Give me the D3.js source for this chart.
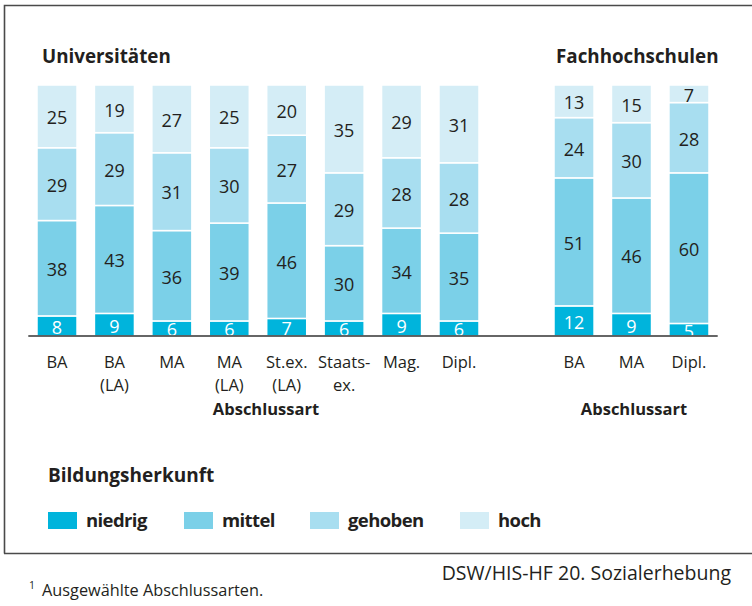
<!DOCTYPE html>
<html><head><meta charset="utf-8">
<script src="https://cdn.jsdelivr.net/npm/d3@7"></script>
<style>
html,body{margin:0;padding:0;background:#fff;}
svg{display:block;font-family:"Open Sans",sans-serif;}
</style></head>
<body>
<svg id="chart" width="752" height="606"></svg>
<script>
// ---- data ----
const seriesNames = ["niedrig", "mittel", "gehoben", "hoch"];
const seriesColors = ["#00b4dc", "#7bd0e8", "#a8def0", "#d4edf6"];

const uniCategories = ["BA", "BA\n(LA)", "MA", "MA\n(LA)", "St.ex.\n(LA)", "Staats-\nex.", "Mag.", "Dipl."];
const uniNiedrig = [8, 9, 6, 6, 7, 6, 9, 6];
const uniMittel  = [38, 43, 36, 39, 46, 30, 34, 35];
const uniGehoben = [29, 29, 31, 30, 27, 29, 28, 28];
const uniHoch    = [25, 19, 27, 25, 20, 35, 29, 31];

const fhCategories = ["BA", "MA", "Dipl."];
const fhNiedrig = [12, 9, 5];
const fhMittel  = [51, 46, 60];
const fhGehoben = [24, 30, 28];
const fhHoch    = [13, 15, 7];

const yTicks = [0, 100];

// ---- drawing ----
const svg = d3.select("#chart");
const ink = "#231f20";

// frame
svg.append("path")
  .attr("d", "M4.5,553.5 L4.5,5.5 L752,5.5")
  .attr("fill", "none").attr("stroke", "#4a4a4a").attr("stroke-width", 1.6);
svg.append("line").attr("x1", 4).attr("x2", 752).attr("y1", 553.5).attr("y2", 553.5)
  .attr("stroke", "#4a4a4a").attr("stroke-width", 1.6);

const y = d3.scaleLinear().domain(d3.extent(yTicks)).range([336, 85]);

function buildRows(cats, arrs) {
  return cats.map((c, i) => {
    const row = {key: String(i), label: c};
    seriesNames.forEach((s, j) => row[s] = arrs[j][i]);
    return row;
  });
}

function drawGroup(cats, arrs, range, title, titleX, axisTitleX) {
  const rows = buildRows(cats, arrs);
  const x = d3.scaleBand().domain(rows.map(r => r.key)).range(range)
    .paddingInner(0.303).paddingOuter(0.1515);
  const stacked = d3.stack().keys(seriesNames)(rows);

  const g = svg.append("g");
  stacked.forEach((layer, li) => {
    g.selectAll(null).data(layer).enter().append("rect")
      .attr("x", d => x(d.data.key))
      .attr("width", x.bandwidth())
      .attr("y", d => y(d[1]))
      .attr("height", d => y(d[0]) - y(d[1]))
      .attr("fill", seriesColors[li])
      .attr("stroke", "#fff").attr("stroke-width", 1.5);
    g.selectAll(null).data(layer).enter().append("text")
      .attr("x", d => x(d.data.key) + x.bandwidth() / 2)
      .attr("y", d => (y(d[0]) + y(d[1])) / 2 + 3)
      .attr("text-anchor", "middle")
      .attr("dominant-baseline", "middle")
      .attr("font-size", 18)
      .attr("fill", li === 0 ? "#fff" : ink)
      .text(d => d.data[seriesNames[li]]);
  });

  // axis
  const axis = d3.axisBottom(x).tickSize(0).tickPadding(0).tickFormat(k => rows[+k].label);
  const ag = svg.append("g").attr("transform", "translate(0,336)").call(axis);
  ag.select(".domain").remove();
  ag.selectAll(".tick text").each(function(k) {
    const t = d3.select(this);
    const lines = rows[+k].label.split("\n");
    t.text(null).attr("y", 0).attr("dy", null)
      .attr("font-family", "Open Sans").attr("font-size", 16.5).attr("fill", ink);
    lines.forEach((ln, i) => {
      t.append("tspan").attr("x", 0).attr("y", 32 + i * 23).text(ln);
    });
  });

  svg.append("text").attr("x", titleX).attr("y", 63)
    .attr("font-size", 18.8).attr("font-weight", 700).attr("fill", ink)
    .text(title);
  svg.append("text").attr("x", axisTitleX).attr("y", 415).attr("text-anchor", "middle")
    .attr("font-size", 16.5).attr("font-weight", 700).attr("fill", ink)
    .text("Abschlussart");
}

drawGroup(uniCategories, [uniNiedrig, uniMittel, uniGehoben, uniHoch], [28.3, 487.7], "Universitäten", 42, 266);
drawGroup(fhCategories, [fhNiedrig, fhMittel, fhGehoben, fhHoch], [545.3, 717.7], "Fachhochschulen", 556, 634);

// baseline
svg.append("line").attr("x1", 28.3).attr("x2", 717.7).attr("y1", 336).attr("y2", 336)
  .attr("stroke", "#333").attr("stroke-width", 1.5);

// legend
svg.append("text").attr("x", 48).attr("y", 482)
  .attr("font-size", 19).attr("font-weight", 700).attr("fill", ink).text("Bildungsherkunft");
const legendX = [48, 184, 310, 460];
const lg = svg.append("g");
seriesNames.forEach((s, i) => {
  lg.append("rect").attr("x", legendX[i]).attr("y", 512).attr("width", 29).attr("height", 17)
    .attr("fill", seriesColors[i]);
  lg.append("text").attr("x", legendX[i] + 38).attr("y", 527)
    .attr("font-size", 18.5).attr("font-weight", 700).attr("fill", ink)
    .attr("letter-spacing", -0.6).text(s);
});

// source & footnote
svg.append("text").attr("x", 731).attr("y", 580).attr("text-anchor", "end")
  .attr("font-size", 19.5).attr("fill", ink).text("DSW/HIS-HF 20. Sozialerhebung");
svg.append("text").attr("x", 29).attr("y", 589).attr("font-size", 10.5).attr("fill", ink).text("1");
svg.append("text").attr("x", 42).attr("y", 596).attr("font-size", 16.3).attr("fill", ink).text("Ausgewählte Abschlussarten.");
</script>
</body></html>
